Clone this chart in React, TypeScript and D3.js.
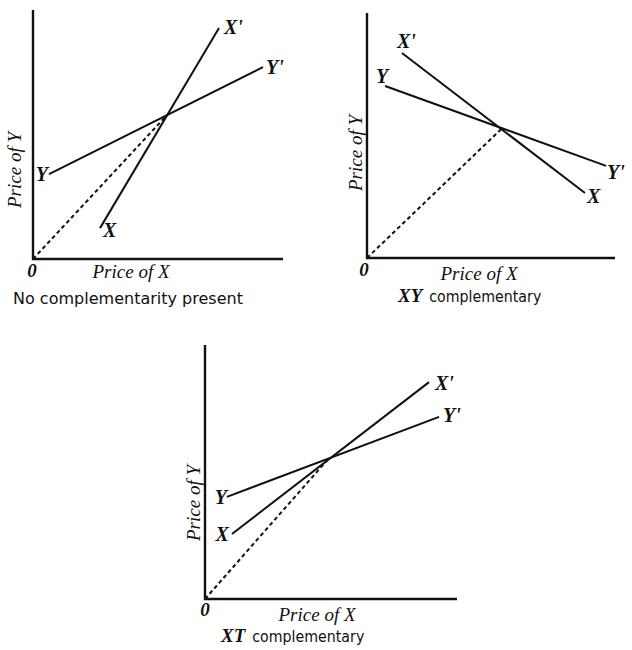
import React from 'react';
import * as d3 from 'd3';

// line end points in axis units (0..10 on each axis)
const noneYLine = [[0.64, 3.41], [9.2, 7.71]];
const noneXLine = [[2.68, 1.24], [7.44, 9.28]];
const noneMeet = [5.37, 5.79];

const xyYLine = [[0.73, 7.02], [9.64, 3.76]];
const xyXLine = [[8.79, 2.65], [1.41, 8.37]];
const xyMeet = [5.44, 5.29];

const xtYLine = [[0.87, 4.02], [9.29, 7.17]];
const xtXLine = [[1.07, 2.56], [8.89, 8.54]];
const xtMeet = [4.88, 5.5];

const captions = ["No complementarity present", "XY complementary", "XT complementary"];
const axisX = "Price of X";
const axisY = "Price of Y";

const serif = "'Liberation Serif', 'DejaVu Serif', serif";
const sans = "'DejaVu Sans', 'Liberation Sans', sans-serif";

type Pt = number[];

interface PanelProps {
  ox: number; oy: number; w: number; h: number;
  yLine: Pt[]; xLine: Pt[]; meet: Pt;
  lab: { text: string; at: Pt; dx: number; dy: number; anchor: string }[];
  caption: React.ReactNode;
  capX: number; capY: number;
  xLabX: number; xLabY: number;
  yLabX: number; yLabY: number;
  zeroX: number; zeroY: number;
}

const Panel = (p: PanelProps) => {
  const x = d3.scaleLinear().domain([0, 10]).range([p.ox, p.ox + p.w]);
  const y = d3.scaleLinear().domain([0, 10]).range([p.oy, p.oy - p.h]);
  const line = d3.line<Pt>().x(d => x(d[0])).y(d => y(d[1]));

  return (
    <g>
      {/* axes */}
      <path d={line([[0, 10], [0, 0], [10, 0]]) || ''} fill="none" stroke="#111" strokeWidth={2.4} />
      {/* dashed ray from origin */}
      <path d={line([[0, 0], p.meet]) || ''} fill="none" stroke="#111" strokeWidth={2} strokeDasharray="4,3" />
      <path d={line(p.yLine) || ''} fill="none" stroke="#111" strokeWidth={2} />
      <path d={line(p.xLine) || ''} fill="none" stroke="#111" strokeWidth={2} />
      {p.lab.map((l, i) => (
        <text key={i} x={x(l.at[0]) + l.dx} y={y(l.at[1]) + l.dy}
          textAnchor={l.anchor} fontFamily={serif} fontStyle="italic" fontWeight="bold" fontSize={20} fill="#111">
          {l.text}
        </text>
      ))}
      <text x={p.zeroX} y={p.zeroY} textAnchor="middle" fontFamily={serif} fontStyle="italic" fontWeight="bold" fontSize={19} fill="#111">0</text>
      <text x={p.xLabX} y={p.xLabY} textAnchor="middle" fontFamily={serif} fontStyle="italic" fontSize={19} fill="#111">{axisX}</text>
      <text transform={`translate(${p.yLabX},${p.yLabY}) rotate(-90)`} textAnchor="middle" fontFamily={serif} fontStyle="italic" fontSize={19} fill="#111">{axisY}</text>
      <text x={p.capX} y={p.capY} fontFamily={sans} fontSize={15} fill="#111">{p.caption}</text>
    </g>
  );
};

const twoPart = (s: string) => {
  const [a, ...rest] = s.split(' ');
  return (
    <>
      <tspan fontFamily={serif} fontStyle="italic" fontWeight="bold" fontSize={19}>{a}</tspan>
      <tspan dx={7} textLength={112} lengthAdjust="spacingAndGlyphs">{rest.join(' ')}</tspan>
    </>
  );
};

export default function App() {
  return (
    <svg width={632} height={650} style={{ position: 'absolute', left: 0, top: 0, background: '#fff' }}>
      <Panel ox={33} oy={259} w={250} h={249}
        yLine={noneYLine} xLine={noneXLine} meet={noneMeet}
        lab={[
          { text: "X'", at: noneXLine[1], dx: 5, dy: 6, anchor: 'start' },
          { text: "Y'", at: noneYLine[1], dx: 3, dy: 7, anchor: 'start' },
          { text: 'Y', at: noneYLine[0], dx: -1, dy: 7, anchor: 'end' },
          { text: 'X', at: noneXLine[0], dx: 3, dy: 9, anchor: 'start' },
        ]}
        caption={<tspan textLength={230} lengthAdjust="spacingAndGlyphs">{captions[0]}</tspan>}
        capX={13} capY={304}
        xLabX={131} xLabY={278} yLabX={21} yLabY={170} zeroX={32} zeroY={277} />
      <Panel ox={367} oy={258} w={248} h={245}
        yLine={xyYLine} xLine={xyXLine} meet={xyMeet}
        lab={[
          { text: "X'", at: xyXLine[1], dx: -5, dy: -5, anchor: 'start' },
          { text: 'Y', at: xyYLine[0], dx: -9, dy: -3, anchor: 'start' },
          { text: "Y'", at: xyYLine[1], dx: 1, dy: 13, anchor: 'start' },
          { text: 'X', at: xyXLine[0], dx: 2, dy: 10, anchor: 'start' },
        ]}
        caption={twoPart(captions[1])}
        capX={398} capY={302}
        xLabX={479} xLabY={280} yLabX={362} yLabY={153} zeroX={364} zeroY={276} />
      <Panel ox={205} oy={599} w={252} h={254}
        yLine={xtYLine} xLine={xtXLine} meet={xtMeet}
        lab={[
          { text: "X'", at: xtXLine[1], dx: 6, dy: 8, anchor: 'start' },
          { text: "Y'", at: xtYLine[1], dx: 4, dy: 5, anchor: 'start' },
          { text: 'Y', at: xtYLine[0], dx: 0, dy: 7, anchor: 'end' },
          { text: 'X', at: xtXLine[0], dx: -3, dy: 7, anchor: 'end' },
        ]}
        caption={twoPart(captions[2])}
        capX={221} capY={642}
        xLabX={317} xLabY={621} yLabX={200} yLabY={503} zeroX={205} zeroY={616} />
    </svg>
  );
}
